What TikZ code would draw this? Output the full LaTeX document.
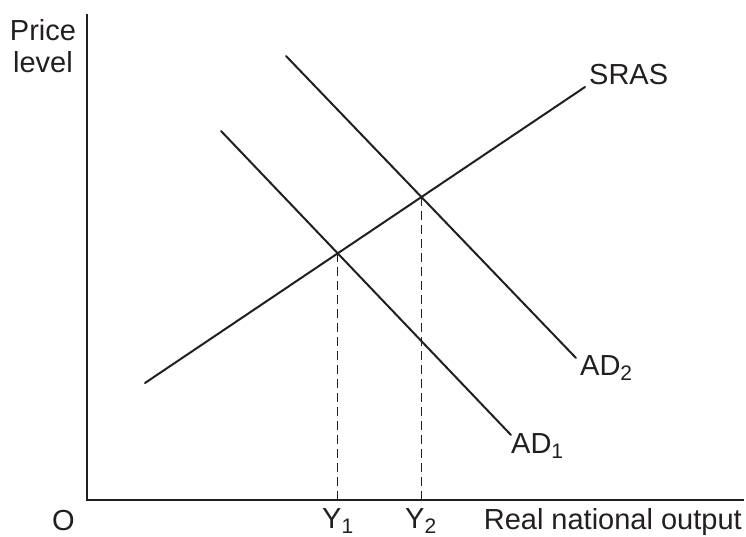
\documentclass[tikz,border=0pt]{standalone}
\usepackage{fontspec}
\setmainfont{Liberation Sans}
\usetikzlibrary{calc}
\definecolor{ink}{HTML}{231F20}
\newcommand\lowsub[1]{\raisebox{-5pt}{\fontsize{21}{21}\selectfont #1}}
\tikzset{
  curve/.style={draw=ink, line width=2pt},
  axis/.style={draw=ink, line width=2.1pt},
  guide/.style={draw=ink, line width=1.4pt, dash pattern=on 9pt off 5pt},
  lbl/.style={inner sep=0pt, text=ink, font=\fontsize{29}{33}\selectfont},
}
\begin{document}
\begin{tikzpicture}[x=1pt,y=-1pt]
\useasboundingbox (0,0) rectangle (746,537);
% axes
\coordinate (ytop) at (87,14);
\coordinate (org) at (87,500);
\coordinate (xend) at (744,500);
\draw[axis] (ytop) -- (org) -- (xend);
% curves
\coordinate (sras0) at (145,383);
\coordinate (sras1) at (585,87);
\coordinate (ad1a) at (221,131);
\coordinate (ad1b) at (511,435);
\coordinate (ad2a) at (286,56);
\coordinate (ad2b) at (576,358);
\draw[curve, line cap=round] (sras0) -- (sras1);
\draw[curve, line cap=round] (ad1a) -- (ad1b);
\draw[curve, line cap=round] (ad2a) -- (ad2b);
% equilibria
\coordinate (e1) at (intersection of sras0--sras1 and ad1a--ad1b);
\coordinate (e2) at (intersection of sras0--sras1 and ad2a--ad2b);
\draw[guide] (e1) -- (e1 |- org);
\draw[guide] (e2) -- (e2 |- org);
% labels
\node[lbl, anchor=base] (price) at (43,41) {Price};
\node[lbl, anchor=base] (level) at (43,73) {level};
\node[lbl, anchor=base] (o) at (63.5,530) {O};
\node[lbl, anchor=base west] (y1) at (322,528) {Y\lowsub{1}};
\node[lbl, anchor=base west] (y2) at (405,528) {Y\lowsub{2}};
\node[lbl, anchor=base east] (xlab) at (742,529) {Real national output};
\node[lbl, anchor=base west] (sraslab) at (589,85) {SRAS};
\node[lbl, anchor=base west] (ad2lab) at (580,375) {AD\lowsub{2}};
\node[lbl, anchor=base west] (ad1lab) at (511,453) {AD\lowsub{1}};
\end{tikzpicture}
\end{document}
